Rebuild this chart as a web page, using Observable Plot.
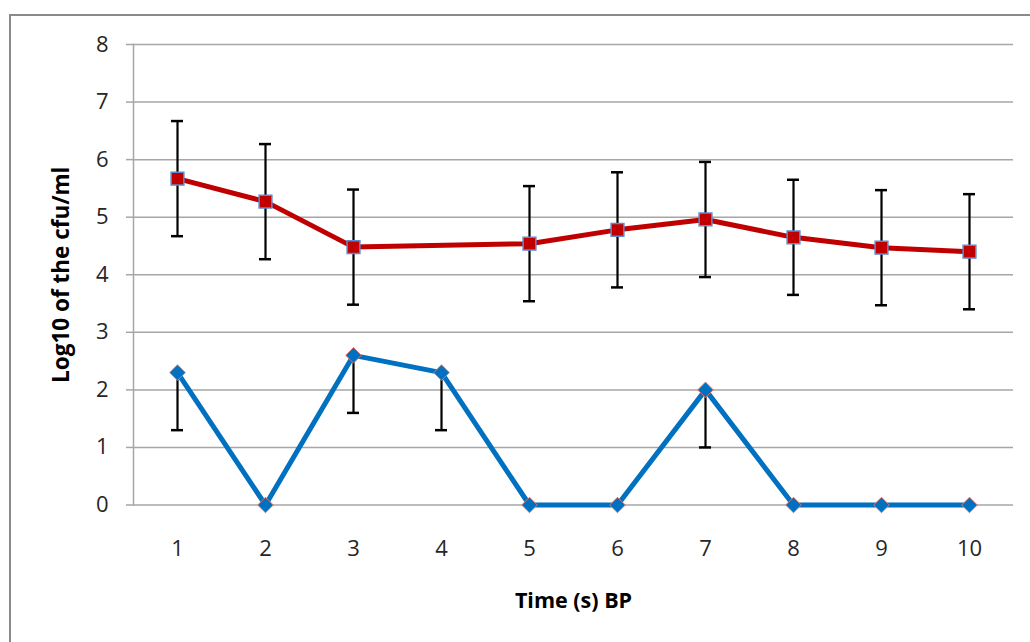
<!DOCTYPE html>
<html>
<head>
<meta charset="utf-8">
<script src="https://cdn.jsdelivr.net/npm/d3@7"></script>
<script src="https://cdn.jsdelivr.net/npm/@observablehq/plot@0.6"></script>
<style>
  html, body { margin: 0; padding: 0; background: #fff; overflow: hidden; }
  #wrap { position: relative; width: 1030px; height: 642px; }
  #frame { position: absolute; left: 9px; top: 14px; width: 1100px; height: 700px;
           border: 2px solid #8a8a8a; box-sizing: border-box; pointer-events: none; }
  svg { position: absolute; left: 0; top: 0; }
</style>
</head>
<body>
<div id="wrap"><div id="chart"></div><div id="frame"></div></div>
<script>
// Data
const times = [1, 2, 3, 4, 5, 6, 7, 8, 9, 10];
const redMean = [5.67, 5.27, 4.48, null, 4.54, 4.78, 4.96, 4.65, 4.47, 4.40];
const redErr = [1, 1, 1, null, 1, 1, 1, 1, 1, 1];
const blueMean = [2.3, 0, 2.6, 2.3, 0, 0, 2.0, 0, 0, 0];
const blueErrMinus = [1, null, 1, 1, null, null, 1, null, null, null];
const yTicks = [0, 1, 2, 3, 4, 5, 6, 7, 8];
const xLabel = "Time (s) BP";
const yLabel = "Log10 of the cfu/ml";

const red = times.map((t, i) => ({t, v: redMean[i], e: redErr[i]})).filter(d => d.v != null);
const blue = times.map((t, i) => ({t, v: blueMean[i], e: blueErrMinus[i]}));
const blueErr = blue.filter(d => d.e != null);

const gridColor = "#a6a6a6";
const font = "'Open Sans', sans-serif";

const chart = Plot.plot({
  width: 1030,
  height: 642,
  marginTop: 44,
  marginBottom: 137.5,
  marginLeft: 133,
  marginRight: 17,
  style: { fontFamily: font, fontSize: "22px", color: "#262626", background: "transparent" },
  x: { type: "point", domain: times, padding: 0.5 },
  y: { domain: [0, 8] },
  marks: [
    Plot.gridY(yTicks, { stroke: gridColor, strokeOpacity: 1, strokeWidth: 1.5 }),
    Plot.frame({ anchor: "left", stroke: gridColor, strokeWidth: 1.5 }),
    Plot.axisY(yTicks, { tickSize: 7, tickPadding: 18, stroke: gridColor, strokeWidth: 1.5, label: null,
                         fill: "#262626", fontSize: 22, tickFormat: d => String(d) }),
    Plot.axisX(times, { tickSize: 0, tickPadding: 35, label: null, fill: "#262626", fontSize: 22,
                        tickFormat: d => String(d) }),
    // Red error bars
    Plot.ruleX(red, { x: "t", y1: d => d.v - d.e, y2: d => d.v + d.e, stroke: "black", strokeWidth: 2.2 }),
    Plot.ruleY(red, { x1: "t", x2: "t", y: d => d.v + d.e, insetLeft: -6, insetRight: -6, stroke: "black", strokeWidth: 2.5 }),
    Plot.ruleY(red, { x1: "t", x2: "t", y: d => d.v - d.e, insetLeft: -6, insetRight: -6, stroke: "black", strokeWidth: 2.5 }),
    // Blue error bars (minus only)
    Plot.ruleX(blueErr, { x: "t", y1: d => d.v - d.e, y2: "v", stroke: "black", strokeWidth: 2.2 }),
    Plot.ruleY(blueErr, { x1: "t", x2: "t", y: d => d.v - d.e, insetLeft: -6, insetRight: -6, stroke: "black", strokeWidth: 2.5 }),
    // Lines
    Plot.line(blue, { x: "t", y: "v", stroke: "#0070C0", strokeWidth: 5 }),
    Plot.line(red, { x: "t", y: "v", stroke: "#C00000", strokeWidth: 5 }),
    // Markers
    Plot.dot(blue, { x: "t", y: "v", symbol: "diamond2", r: 7, fill: "#0070C0", stroke: "#d9756f", strokeWidth: 1 }),
    Plot.dot(red, { x: "t", y: "v", symbol: "square", r: 7.2, fill: "#C00000", stroke: "#5b8bd0", strokeWidth: 1.5 }),
    // Axis titles
    Plot.text([xLabel], { text: d => d, frameAnchor: "bottom", dy: 96, lineAnchor: "middle", textAnchor: "middle",
                          fontWeight: "bold", fill: "black", fontSize: 21.5 }),
    Plot.text([yLabel], { text: d => d, frameAnchor: "left", dx: -72, rotate: -90, lineAnchor: "middle", textAnchor: "middle",
                          fontWeight: "bold", fill: "black", fontSize: 22.5 })
  ]
});
document.getElementById("chart").appendChild(chart);
</script>
</body>
</html>
